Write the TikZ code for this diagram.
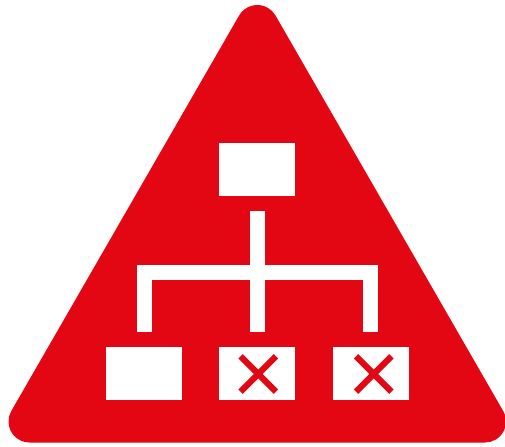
\documentclass[tikz,border=0pt]{standalone}
\definecolor{signred}{HTML}{E30613}
\tikzset{
  x=0.75pt,y=-0.75pt,
  orgbox/.style={fill=white,draw=none,inner sep=0pt,minimum width=57pt,minimum height=39.75pt,anchor=center},
  orgline/.style={draw=white,line width=11.25pt},
  crossline/.style={draw=signred,line width=4.7pt}
}
\begin{document}
\begin{tikzpicture}
\useasboundingbox (0,0) rectangle (505,446);
% rounded warning triangle
\coordinate (apex) at (257.3,26);
\coordinate (cl) at (29.5,421.5);
\coordinate (cr) at (485,421.5);
\fill[signred] ([shift={(150:15.75pt)}]apex) arc[start angle=150,end angle=30,radius=15.75pt]
  -- ([shift={(30:15.75pt)}]cr) arc[start angle=30,end angle=-90,radius=15.75pt]
  -- ([shift={(-90:15.75pt)}]cl) arc[start angle=270,end angle=150,radius=15.75pt] -- cycle;
% boxes
\node[orgbox] (top) at (257,169.5) {};
\node[orgbox] (left) at (144,373.5) {};
\node[orgbox] (mid) at (257.3,373.5) {};
\node[orgbox] (right) at (370.5,373.5) {};
% connectors
\coordinate (stemtop) at (257.3,211);
\coordinate (stemend) at (257.3,332);
\coordinate (busl) at (144,272);
\coordinate (busr) at (370.5,272);
\coordinate (endl) at (144,332);
\coordinate (endr) at (370.5,332);
\draw[orgline] (stemtop) -- (stemend);
\draw[orgline,line join=miter] (endl) -- (busl) -- (busr) -- (endr);
% crosses
\coordinate (xm) at (258.3,374);
\coordinate (xr) at (373.7,374);
\draw[crossline] ([shift={(-17.7,-17.7)}]xm) -- ([shift={(17.7,17.7)}]xm);
\draw[crossline] ([shift={(-17.7,17.7)}]xm) -- ([shift={(17.7,-17.7)}]xm);
\draw[crossline] ([shift={(-17.7,-17.7)}]xr) -- ([shift={(17.7,17.7)}]xr);
\draw[crossline] ([shift={(-17.7,17.7)}]xr) -- ([shift={(17.7,-17.7)}]xr);
\end{tikzpicture}
\end{document}
